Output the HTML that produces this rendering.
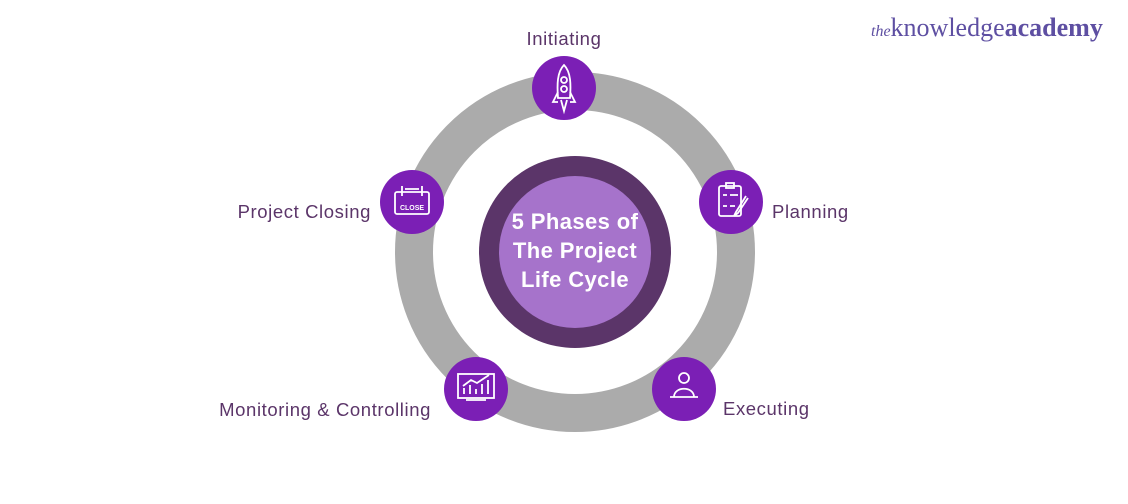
<!DOCTYPE html>
<html><head><meta charset="utf-8"><style>
html,body{margin:0;padding:0;background:#fff;}
svg{display:block}
</style></head><body>
<svg width="1128" height="504" viewBox="0 0 1128 504" xmlns="http://www.w3.org/2000/svg">
<circle cx="575" cy="252" r="161" fill="none" stroke="#ababab" stroke-width="38"/>
<circle cx="575" cy="252" r="96" fill="#5b3569"/>
<circle cx="575" cy="252" r="76" fill="#a673cb"/>
<g font-family="Liberation Sans, sans-serif" font-weight="bold" font-size="22" fill="#fff" text-anchor="middle" letter-spacing="0.4">
<text x="575" y="229">5 Phases of</text>
<text x="575" y="258">The Project</text>
<text x="575" y="287">Life Cycle</text>
</g>
<g fill="#7b1fb5">
<circle cx="564" cy="88" r="32"/>
<circle cx="731" cy="202" r="32"/>
<circle cx="684" cy="389" r="32"/>
<circle cx="476" cy="389" r="32"/>
<circle cx="412" cy="202" r="32"/>
</g>
<g fill="none" stroke="#fff" stroke-width="1.8">
<path d="M564 65 C557 72 557 85 558 98 L570 98 C571 85 571 72 564 65Z"/>
<circle cx="564" cy="80" r="3"/><circle cx="564" cy="89" r="3"/>
<path d="M558 92 L553 102 L558 102 M570 92 L575 102 L570 102 M561 100 L564 111 L567 100"/>
<rect x="719" y="186" width="22" height="30" rx="2"/>
<rect x="726" y="183" width="8" height="5"/>
<path d="M723 195 h4 M730 195 h8 M723 206 h4 M730 206 h5 M746 196 L736 212 L734 216 L738 213 L748 198"/>
<circle cx="684" cy="378" r="5"/>
<path d="M674 397 C674 386 694 386 694 397Z M670 397 h28"/>
<rect x="458" y="374" width="36" height="24"/>
<path d="M466 400 h20 M464 394 v-6 M470 394 v-9 M476 394 v-5 M482 394 v-10 M488 394 v-14 M463 386 l8 -6 l6 3 l12 -8"/>
<rect x="395" y="192" width="34" height="22" rx="2"/>
<path d="M402 186 v10 M422 186 v10 M405 189 h14"/>
<text x="412" y="210" font-family="Liberation Sans, sans-serif" font-size="7" fill="#fff" stroke="none" text-anchor="middle" font-weight="bold">CLOSE</text>
</g>
<g font-family="Liberation Sans, sans-serif" font-size="18.5" fill="#5b3569" letter-spacing="0.6">
<text x="564" y="45" text-anchor="middle">Initiating</text>
<text x="772" y="218">Planning</text>
<text x="723" y="415">Executing</text>
<text x="431" y="416" text-anchor="end">Monitoring &amp; Controlling</text>
<text x="371" y="218" text-anchor="end">Project Closing</text>
</g>
<text x="871" y="36" font-family="Liberation Serif, serif" font-size="26" fill="#5e4fa2"><tspan font-style="italic" font-size="16">the</tspan>knowledge<tspan font-weight="bold">academy</tspan></text>
</svg>
</body></html>
